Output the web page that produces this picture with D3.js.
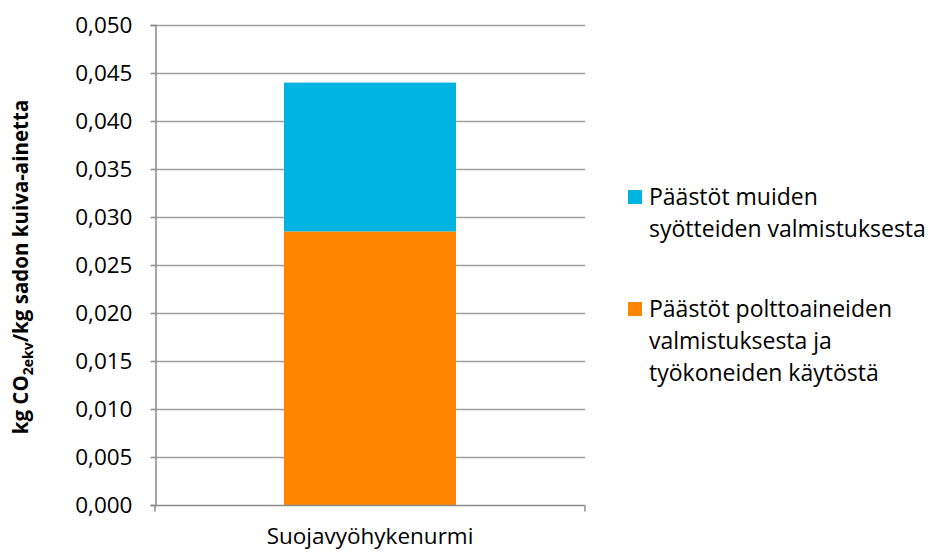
<!DOCTYPE html>
<html>
<head>
<meta charset="utf-8">
<script src="https://cdn.jsdelivr.net/npm/d3@7"></script>
<style>
  body { margin: 0; background: #fff; }
  text { font-family: "Open Sans", sans-serif; fill: #000; }
</style>
</head>
<body>
<script>
/* CONSTANTS AND GLOBALS */
const width = 930,
  height = 552,
  margin = { top: 25, right: 345, bottom: 47, left: 155 }; // plot area 155..585 x 25..505

// chart data
const categories = ["Suojavyöhykenurmi"];
const seriesNames = [
  "Päästöt polttoaineiden valmistuksesta ja työkoneiden käytöstä",
  "Päästöt muiden syötteiden valmistuksesta"
];
const fuelValues = [0.0285];   // orange, bottom
const otherValues = [0.0155];  // blue, top
const yTicks = [0, 0.005, 0.01, 0.015, 0.02, 0.025, 0.03, 0.035, 0.04, 0.045, 0.05];
const legendLines = [
  ["Päästöt muiden", "syötteiden valmistuksesta"],
  ["Päästöt polttoaineiden", "valmistuksesta ja", "työkoneiden käytöstä"]
];
const colors = ["#ff8400", "#00b4e1"];

const table = categories.map((c, i) => ({ cat: c, fuel: fuelValues[i], other: otherValues[i] }));
const stacked = d3.stack().keys(["fuel", "other"])(table);

const svg = d3.select("body").append("svg")
  .attr("width", width)
  .attr("height", height);

// scales
const x = d3.scaleBand()
  .domain(categories)
  .range([margin.left, width - margin.right])
  .paddingInner(0)
  .paddingOuter(0.75);

const y = d3.scaleLinear()
  .domain([0, 0.05])
  .range([height - margin.bottom, margin.top]);

// gridlines
svg.append("g")
  .selectAll("line")
  .data(yTicks.slice(1))
  .enter().append("line")
  .attr("x1", margin.left)
  .attr("x2", width - margin.right)
  .attr("y1", d => Math.round(y(d)) + 0.5)
  .attr("y2", d => Math.round(y(d)) + 0.5)
  .attr("stroke", "#a0a0a0")
  .attr("stroke-width", 1.5);

// bars
svg.append("g")
  .selectAll("g")
  .data(stacked)
  .enter().append("g")
  .attr("fill", (d, i) => colors[i])
  .selectAll("rect")
  .data(d => d)
  .enter().append("rect")
  .attr("x", d => x(d.data.cat))
  .attr("width", x.bandwidth())
  .attr("y", d => y(d[1]))
  .attr("height", d => y(d[0]) - y(d[1]));

// y axis
const fmt = d => d3.format(".3f")(d).replace(".", ",");
const yAxis = svg.append("g")
  .attr("transform", `translate(${margin.left + 0.5},0)`)
  .call(d3.axisLeft(y).tickValues(yTicks).tickFormat(fmt).tickSize(5).tickPadding(18));
yAxis.selectAll("path, line").attr("stroke", "#8c8c8c").attr("stroke-width", 1.5);
yAxis.selectAll("text").attr("font-size", "22.5px").attr("font-family", "'Open Sans', sans-serif").attr("fill", "#000");

// x axis
const xAxis = svg.append("g")
  .attr("transform", `translate(0,${height - margin.bottom + 0.5})`)
  .call(d3.axisBottom(x).tickSize(0));
xAxis.select(".domain").attr("stroke", "#8c8c8c").attr("stroke-width", 1.5)
  .attr("d", `M${margin.left},0H${width - margin.right}`);
xAxis.selectAll("text")
  .attr("y", 38).attr("dy", 0)
  .attr("font-size", "22.5px").attr("font-family", "'Open Sans', sans-serif").attr("fill", "#000");
// outer category ticks
[margin.left, width - margin.right].forEach(px => {
  xAxis.append("line")
    .attr("x1", px).attr("x2", px)
    .attr("y1", 0).attr("y2", 6)
    .attr("stroke", "#8c8c8c").attr("stroke-width", 1.5);
});

// y axis title
const yTitle = svg.append("text")
  .attr("transform", `translate(28,${(margin.top + height - margin.bottom) / 2 + 2}) rotate(-90)`)
  .attr("text-anchor", "middle")
  .attr("font-size", "20.5px")
  .attr("font-weight", "bold");
yTitle.append("tspan").text("kg CO");
yTitle.append("tspan").attr("font-size", "14px").attr("dy", 5).text("2ekv");
yTitle.append("tspan").attr("dy", -5).text("/kg sadon kuiva-ainetta");

// legend
const legendBase = [205, 317];
const legend = svg.append("g");
legendLines.forEach((lines, i) => {
  const g = legend.append("g").attr("transform", `translate(628,${legendBase[i]})`);
  g.append("rect")
    .attr("x", 0).attr("y", -15)
    .attr("width", 14).attr("height", 14)
    .attr("fill", colors[1 - i]);
  const t = g.append("text")
    .attr("x", 21)
    .attr("y", 0)
    .attr("font-size", "23px");
  lines.forEach((ln, j) => {
    t.append("tspan").attr("x", 21).attr("dy", j === 0 ? 0 : 32).text(ln);
  });
});
</script>
</body>
</html>
